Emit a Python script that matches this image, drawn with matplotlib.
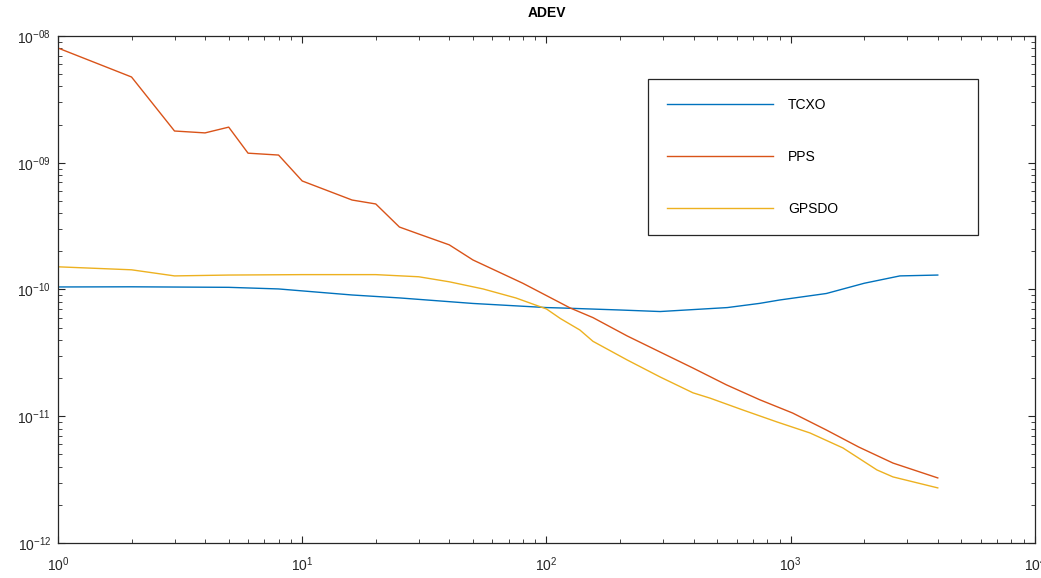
# ADEV plot: TCXO, PPS and GPSDO on log-log axes
import numpy as np
import matplotlib.pyplot as plt
from matplotlib.ticker import FuncFormatter, LogLocator

plt.rcParams['font.family'] = ['Liberation Sans', 'DejaVu Sans']
plt.rcParams['mathtext.fontset'] = 'custom'
plt.rcParams['mathtext.rm'] = 'Liberation Sans'
plt.rcParams['mathtext.it'] = 'Liberation Sans'
plt.rcParams['mathtext.default'] = 'regular'

# tau values and Allan deviation
tau_tcxo = [1, 2, 5, 8, 16, 25, 50, 100, 114, 200, 292, 550, 746, 900, 1400, 2000, 2800, 4000]
adev_tcxo = [1.047e-10, 1.05e-10, 1.04e-10, 1.01e-10, 9.05e-11, 8.58e-11, 7.76e-11,
             7.2e-11, 7.15e-11, 6.89e-11, 6.7e-11, 7.2e-11, 7.77e-11, 8.26e-11,
             9.3e-11, 1.12e-10, 1.28e-10, 1.30e-10]

tau_pps = [1, 2, 3, 4, 5, 6, 8, 10, 16, 20, 25, 30, 40, 50, 80, 125, 155, 214, 292,
           398, 545, 746, 1018, 1397, 1900, 2623, 4000]
adev_pps = [8.04e-9, 4.75e-9, 1.78e-9, 1.72e-9, 1.91e-9, 1.19e-9, 1.15e-9, 7.18e-10,
            5.08e-10, 4.73e-10, 3.11e-10, 2.74e-10, 2.25e-10, 1.71e-10, 1.12e-10,
            7.15e-11, 6.0e-11, 4.3e-11, 3.21e-11, 2.40e-11, 1.77e-11, 1.35e-11,
            1.06e-11, 7.80e-12, 5.71e-12, 4.27e-12, 3.26e-12]

tau_gpsdo = [1, 2, 3, 5, 10, 20, 30, 40, 55, 75, 100, 114, 137, 155, 214, 292, 398, 467,
             637, 879, 1199, 1636, 2254, 2623, 4000]
adev_gpsdo = [1.51e-10, 1.43e-10, 1.28e-10, 1.30e-10, 1.31e-10, 1.31e-10, 1.26e-10,
              1.15e-10, 1.01e-10, 8.57e-11, 7.02e-11, 5.9e-11, 4.79e-11, 3.9e-11,
              2.78e-11, 2.04e-11, 1.53e-11, 1.39e-11, 1.12e-11, 9.01e-12, 7.38e-12,
              5.62e-12, 3.77e-12, 3.32e-12, 2.72e-12]

fig = plt.figure(figsize=(10.41, 5.78), dpi=100)
ax = fig.add_axes([0.0557, 0.0606, 0.9385, 0.8771])

ax.loglog(tau_tcxo, adev_tcxo, color='#0072BD', lw=1.0, label='TCXO')
ax.loglog(tau_pps, adev_pps, color='#D95319', lw=1.0, label='PPS')
ax.loglog(tau_gpsdo, adev_gpsdo, color='#EDB120', lw=1.0, label='GPSDO')

ax.set_xlim(1, 1e4)
ax.set_ylim(1e-12, 1e-8)
ax.set_title('ADEV', fontsize=10, fontweight='bold', pad=14)

ax.xaxis.set_major_formatter(FuncFormatter(lambda v, p: r'$10^{%d}$' % round(np.log10(v))))
ax.yaxis.set_major_formatter(FuncFormatter(lambda v, p: r'$10^{-%02d}$' % round(-np.log10(v))))
ax.xaxis.set_minor_locator(LogLocator(base=10, subs=np.arange(2, 10), numticks=20))
ax.yaxis.set_minor_locator(LogLocator(base=10, subs=np.arange(2, 10), numticks=20))
ax.tick_params(which='both', direction='in', top=True, right=True, labelsize=10,
               color='#262626', labelcolor='#262626')
ax.tick_params(which='major', length=5, width=0.8)
ax.tick_params(which='minor', length=3, width=0.6)
ax.tick_params(axis='x', which='major', pad=9)
ax.tick_params(axis='y', which='major', pad=5)
for s in ax.spines.values():
    s.set_color('#262626')
    s.set_linewidth(0.9)

leg = ax.legend(loc='upper left', bbox_to_anchor=(0.604, 0.613, 0.338, 0.302),
                mode='expand', borderaxespad=0, fontsize=10, handlelength=7.6,
                handletextpad=1.1, labelspacing=2.73, borderpad=1.37,
                fancybox=False, framealpha=1, edgecolor='#262626')
leg.get_frame().set_linewidth(0.9)

fig.savefig('out.png', dpi=100)
